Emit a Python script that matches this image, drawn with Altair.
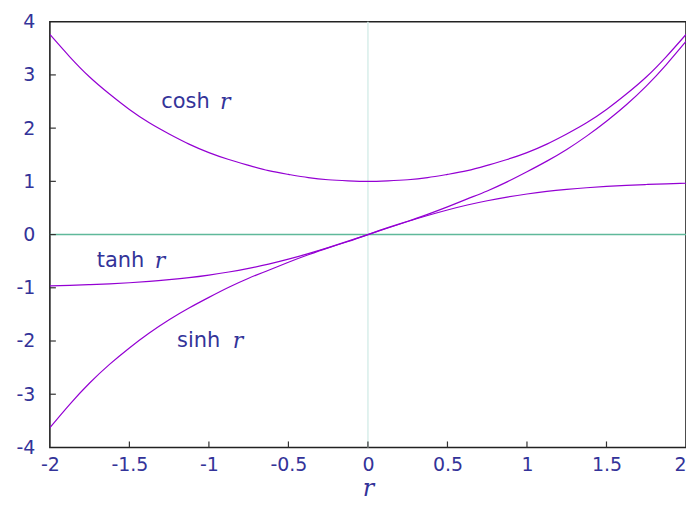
import altair as alt
import pandas as pd

r_vals = [-2.0, -1.875, -1.75, -1.625, -1.5, -1.375, -1.25, -1.125, -1.0,
          -0.875, -0.75, -0.625, -0.5, -0.375, -0.25, -0.125, 0.0,
          0.125, 0.25, 0.375, 0.5, 0.625, 0.75, 0.875, 1.0,
          1.125, 1.25, 1.375, 1.5, 1.625, 1.75, 1.875, 2.0]
cosh_vals = [3.76, 3.34, 2.96, 2.64, 2.35, 2.10, 1.89, 1.70, 1.54,
             1.41, 1.30, 1.20, 1.13, 1.07, 1.03, 1.01, 1.00,
             1.01, 1.03, 1.07, 1.13, 1.20, 1.30, 1.41, 1.54,
             1.70, 1.89, 2.10, 2.35, 2.64, 2.96, 3.34, 3.76]
sinh_vals = [-3.63, -3.19, -2.79, -2.44, -2.13, -1.85, -1.60, -1.38, -1.18,
             -0.99, -0.82, -0.67, -0.52, -0.38, -0.25, -0.13, 0.00,
             0.13, 0.25, 0.38, 0.52, 0.67, 0.82, 0.99, 1.18,
             1.38, 1.60, 1.85, 2.13, 2.44, 2.79, 3.19, 3.63]
tanh_vals = [-0.964, -0.954, -0.941, -0.926, -0.905, -0.880, -0.848, -0.810, -0.762,
             -0.704, -0.635, -0.555, -0.462, -0.358, -0.245, -0.124, 0.0,
             0.124, 0.245, 0.358, 0.462, 0.555, 0.635, 0.704, 0.762,
             0.810, 0.848, 0.880, 0.905, 0.926, 0.941, 0.954, 0.964]

x_ticks = [-2, -1.5, -1, -0.5, 0, 0.5, 1, 1.5, 2]
y_ticks = [-4, -3, -2, -1, 0, 1, 2, 3, 4]

label_names = ["cosh", "tanh", "sinh"]
label_x = [-1.30, -1.705, -1.20]
label_y = [2.50, -0.50, -2.00]
label_r_x = [-0.93, -1.34, -0.85]

W, H = 638, 427
PURPLE = "#9400d3"
TXT = "#333399"

rows = []
for name, vals in [("cosh", cosh_vals), ("sinh", sinh_vals), ("tanh", tanh_vals)]:
    for r, v in zip(r_vals, vals):
        rows.append({"fn": name, "r": r, "v": v})
df = pd.DataFrame(rows)

xs = alt.Scale(domain=[-2, 2], nice=False, zero=False)
ys = alt.Scale(domain=[-4, 4], nice=False, zero=False)

x_axis = alt.Axis(values=x_ticks, labelExpr="'' + datum.value", ticks=False, domain=False,
                  grid=False, labelFont="DejaVu Sans", labelFontSize=19, labelColor=TXT,
                  labelAlign=alt.expr("datum.value == 2 ? 'right' : 'center'"),
                  labelPadding=8, labelFlush=False, title="r", titleFont="DejaVu Serif",
                  titleFontStyle="italic", titleFontWeight="normal", titleFontSize=24,
                  titleColor=TXT, titlePadding=2)
y_axis = alt.Axis(values=y_ticks, labelExpr="'' + datum.value", ticks=False, domain=False,
                  grid=False, labelFont="DejaVu Sans", labelFontSize=19, labelColor=TXT,
                  labelPadding=15, labelFlush=False, title=None)

vline = alt.Chart(pd.DataFrame({"r": [0]})).mark_rule(color="#d8eeea", strokeWidth=1.5).encode(
    x=alt.X("r:Q", scale=xs, axis=x_axis))
hline = alt.Chart(pd.DataFrame({"v": [0]})).mark_rule(color="#5fb99a", strokeWidth=1.5).encode(
    y=alt.Y("v:Q", scale=ys, axis=y_axis))

curves = alt.Chart(df).mark_line(color=PURPLE, strokeWidth=1.2, interpolate="natural", clip=True).encode(
    x=alt.X("r:Q", scale=xs), y=alt.Y("v:Q", scale=ys), detail="fn:N")

xt = alt.Chart(pd.DataFrame({"t": x_ticks[1:-1]})).mark_rule(color="#333", strokeWidth=1.2).encode(
    x=alt.X("t:Q", scale=xs), y=alt.value(H), y2=alt.value(H - 6))
yt = alt.Chart(pd.DataFrame({"t": y_ticks[1:-1]})).mark_rule(color="#333", strokeWidth=1.2).encode(
    y=alt.Y("t:Q", scale=ys), x=alt.value(0), x2=alt.value(6))

ldf = pd.DataFrame({"name": label_names, "x": label_x, "y": label_y, "rx": label_r_x})
ltext = alt.Chart(ldf).mark_text(font="DejaVu Sans", fontSize=21, color=TXT, align="left", baseline="middle").encode(
    x=alt.X("x:Q", scale=xs), y=alt.Y("y:Q", scale=ys), text="name:N")
rtext = alt.Chart(ldf).mark_text(font="DejaVu Serif", fontStyle="italic", fontSize=22, color=TXT,
                                  align="left", baseline="middle", text="r").encode(
    x=alt.X("rx:Q", scale=xs), y=alt.Y("y:Q", scale=ys))

chart = alt.layer(vline, hline, curves, xt, yt, ltext, rtext).properties(
    width=W, height=H,
    autosize=alt.AutoSizeParams(type="none"),
    padding={"left": 42, "top": 13, "right": 0, "bottom": 59},
).configure_view(stroke="#222", strokeWidth=1.6)

chart.save("out.html", embed_options={"renderer": "svg", "actions": False})
